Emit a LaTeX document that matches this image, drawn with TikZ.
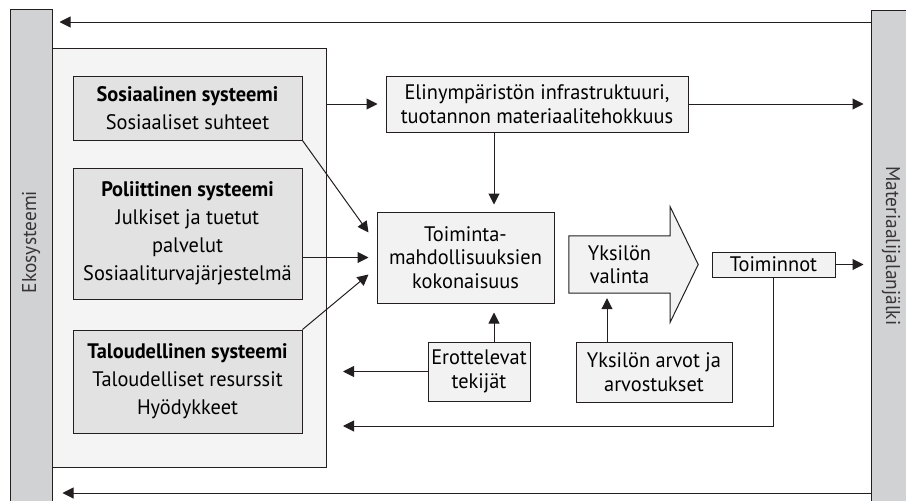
\documentclass[tikz,border=0pt]{standalone}
\usepackage{fontspec}
\setmainfont{PT Sans}[FakeStretch=0.97]
\usetikzlibrary{arrows.meta,backgrounds}
\definecolor{bargray}{HTML}{D1D2D4}
\definecolor{panelgray}{HTML}{F4F4F4}
\definecolor{sysgray}{HTML}{E2E2E2}
\definecolor{boxgray}{HTML}{F2F2F2}
\definecolor{linegray}{HTML}{231F20}
\begin{document}
\begin{tikzpicture}[x=1pt, y=-1pt,
		bar/.style={draw=linegray, fill=bargray, line width=1pt, minimum width=42pt, minimum height=510pt, inner sep=0pt},
		bar label/.style={font=\fontsize{20}{22}\selectfont, text=linegray!90},
		panel/.style={draw=linegray, fill=panelgray, line width=1pt, minimum width=274pt, minimum height=419pt, inner sep=0pt},
		system box/.style={draw=linegray, fill=sysgray, line width=1pt, minimum width=229pt, align=center, inner sep=0pt, font=\fontsize{21}{28}\selectfont},
		plain box/.style={draw=linegray, fill=boxgray, line width=1pt, align=center, inner sep=0pt, font=\fontsize{21}{23.5}\selectfont},
		arrow/.style={draw=linegray, line width=1pt, -{Triangle[length=11pt,width=11pt]}},
		choice arrow/.style={draw=linegray, fill=boxgray, line width=1pt}
	]
	\useasboundingbox (0,0) rectangle (906,501);
	\node[bar] (eko) at (31,264) {};
	\node[bar] (mat) at (892,265) {};
	\node[bar label, rotate=90] (eko_label) at (31,242) {Ekosysteemi};
	\node[bar label, rotate=-90] (mat_label) at (891,246) {Materiaalijalanjälki};

	\node[panel] (sys) at (189,257.5) {};
	\node[system box, minimum height=64pt] (sos) at (187.5,108) {\textbf{Sosiaalinen systeemi}\\Sosiaaliset suhteet};
	\node[system box, minimum height=131pt] (pol) at (187.5,233.5) {\textbf{Poliittinen systeemi}\\Julkiset ja tuetut\\palvelut\\Sosiaaliturvajärjestelmä};
	\node[system box, minimum height=103pt] (tal) at (187.5,381.5) {\textbf{Taloudellinen systeemi}\\Taloudelliset resurssit\\Hyödykkeet};

	\node[plain box, minimum width=302pt, minimum height=56pt] (elin) at (537,104) {Elinympäristön infrastruktuuri,\\tuotannon materiaalitehokkuus};
	\node[plain box, minimum width=177pt, minimum height=91pt] (toim) at (465.5,257.5) {Toiminta-\\mahdollisuuksien\\kokonaisuus};
	\node[minimum width=101pt, minimum height=57pt, inner sep=0pt, align=center, font=\fontsize{21}{23.5}\selectfont] (val) at (619.5,264.5) {Yksilön\\valinta};
	\node[plain box, minimum width=123pt, minimum height=25pt] (toiminnot) at (773.5,264.5) {Toiminnot};
	\node[plain box, minimum width=102pt, minimum height=59pt] (erot) at (479,371.5) {Erottelevat\\tekijät};
	\node[plain box, minimum width=156pt, minimum height=60pt] (arvot) at (654,372) {Yksilön arvot ja\\arvostukset};

	\begin{scope}[on background layer]
		\draw[choice arrow] (val.north west) -- (val.north east) -- ([yshift=29pt]val.north east) -- ([xshift=28pt]val.east) -- ([yshift=-29pt]val.south east) -- (val.south east) -- (val.south west) -- cycle;
	\end{scope}

	\coordinate (top) at (0,22);
	\coordinate (bottom) at (0,493);
	\coordinate (col) at (494,0);
	\coordinate (back) at (343,426);
	\coordinate (up) at (607,0);

	\draw[arrow, shorten >=7pt] (mat.west |- top) -- (eko.east |- top);
	\draw[arrow, shorten >=10pt] (mat.west |- bottom) -- (eko.east |- bottom);
	\draw[arrow, shorten >=8pt] (sys.east |- elin.west) -- (elin.west);
	\draw[arrow, shorten >=7pt] (elin.east) -- (elin.east -| mat.west);
	\draw[arrow, shorten >=7pt] (elin.south -| col) -- (toim.north -| col);
	\draw[arrow] (sos.south east) -- ([xshift=-8pt,yshift=25pt]toim.west);
	\draw[arrow] (pol.east |- toim.west) -- ([xshift=-8pt]toim.west);
	\draw[arrow] (tal.north east) -- ([xshift=-8pt,yshift=-17pt]toim.west);
	\draw[arrow, shorten >=7pt] (toiminnot.east) -- (toiminnot.east -| mat.west);
	\draw[arrow] (toiminnot.south) |- (back);
	\draw[arrow] (erot.west) -- (erot.west -| back);
	\draw[arrow, shorten >=9pt] (erot.north -| col) -- (toim.south -| col);
	\draw[arrow, shorten >=5pt] (arvot.north -| up) -- (val.south -| up);
\end{tikzpicture}
\end{document}
